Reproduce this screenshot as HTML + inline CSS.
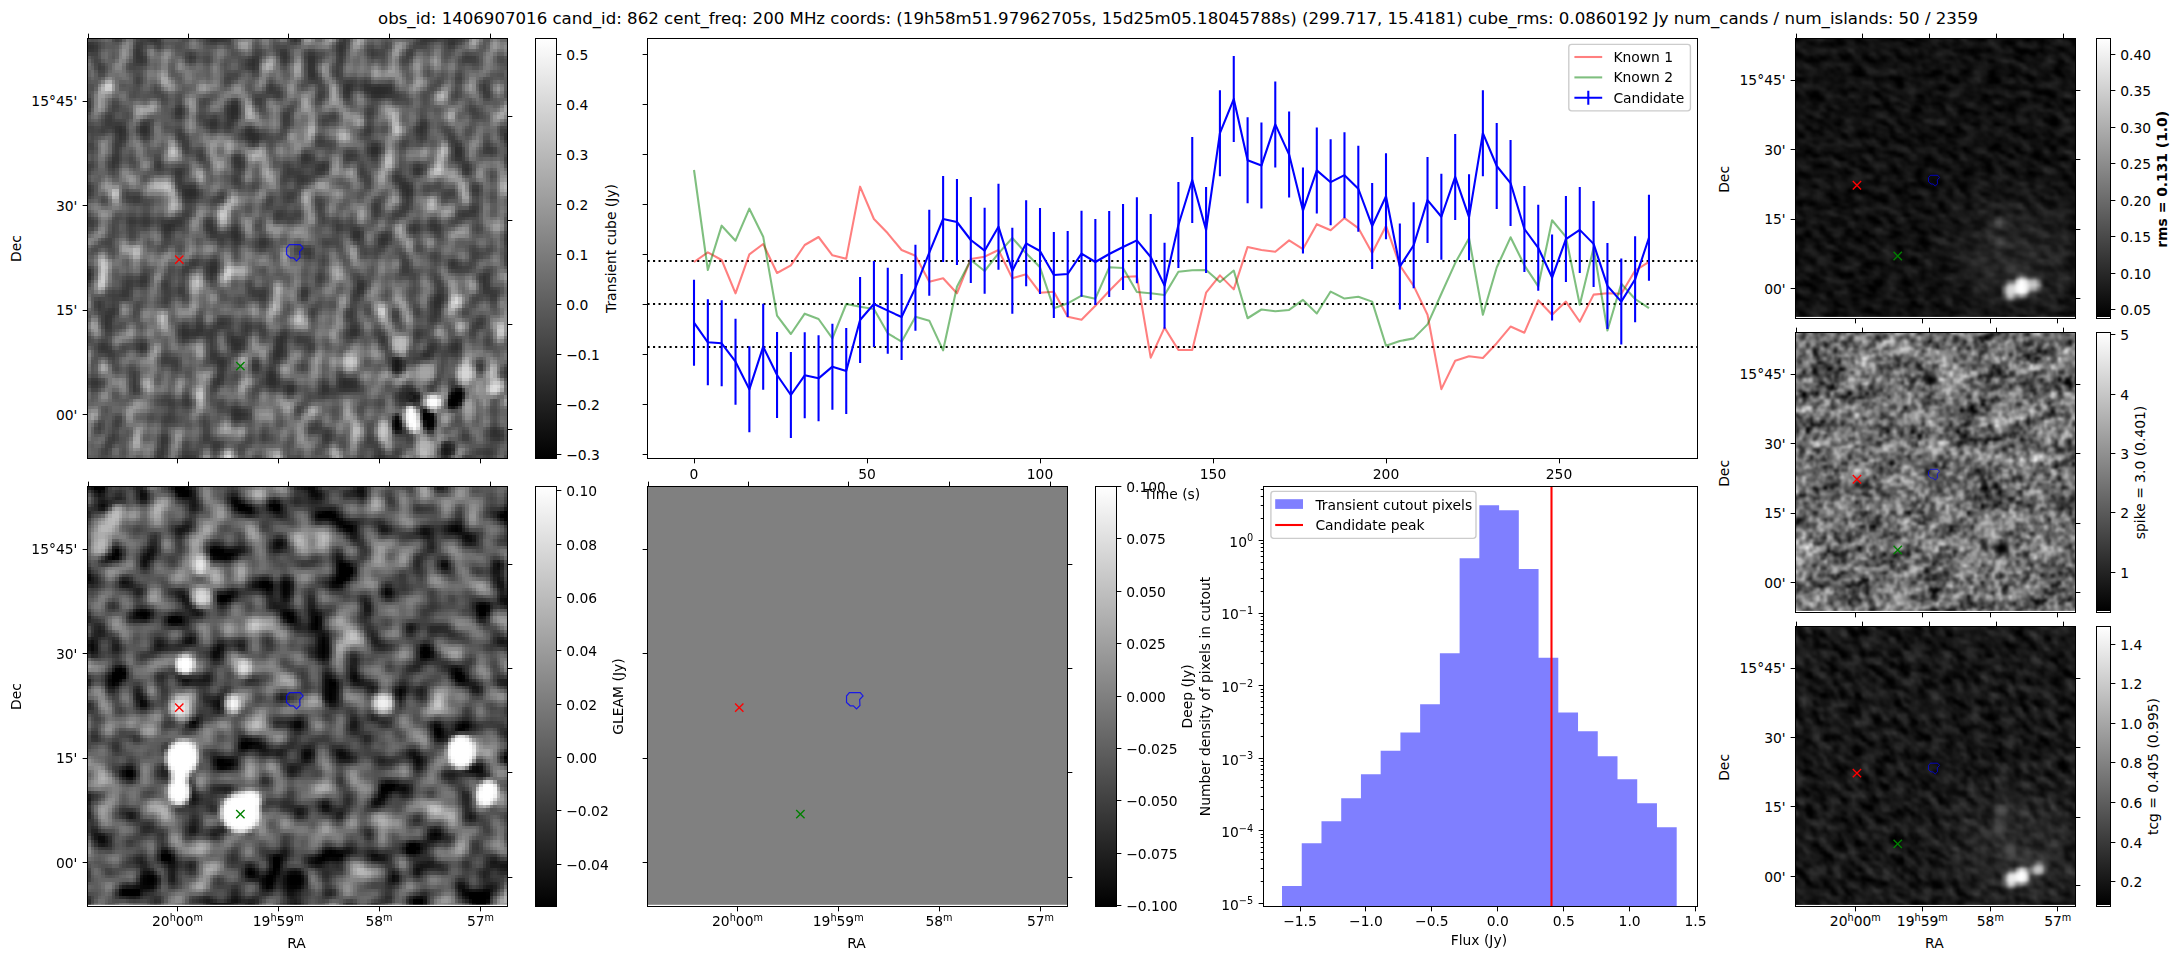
<!DOCTYPE html>
<html lang="en"><head><meta charset="utf-8"><title>candidate 862</title>
<style>html,body{margin:0;padding:0;background:#fff;overflow:hidden}svg{display:block}text{font-family:"DejaVu Sans","Liberation Sans",sans-serif;fill:#000}</style></head><body>
<svg width="2179" height="960" viewBox="0 0 2179 960" font-size="13.89">
<defs>
<linearGradient id="cb" x1="0" y1="0" x2="0" y2="1"><stop offset="0" stop-color="#fff"/><stop offset="1" stop-color="#000"/></linearGradient>
<filter id="n1" x="0" y="0" width="1" height="1" color-interpolation-filters="sRGB"><feTurbulence type="fractalNoise" baseFrequency="0.075 0.058" numOctaves="1" seed="3"/><feColorMatrix type="matrix" values="0.425 0 0 0 0 0.425 0 0 0 0 0.425 0 0 0 0 0 0 0 0 1" result="A"/><feTurbulence type="fractalNoise" baseFrequency="0.042 0.033" numOctaves="1" seed="17"/><feColorMatrix type="matrix" values="0.3 0 0 0 0 0.3 0 0 0 0 0.3 0 0 0 0 0 0 0 0 1" result="B"/><feComposite in="A" in2="B" operator="arithmetic" k1="0" k2="1" k3="1" k4="0"/><feGaussianBlur stdDeviation="1.3"/><feColorMatrix type="matrix" values="2.9412 0 0 0 -0.5662 2.9412 0 0 0 -0.5662 2.9412 0 0 0 -0.5662 0 0 0 0 1"/><feComponentTransfer><feFuncR type="gamma" amplitude="0.7" exponent="1.7" offset="0.165"/><feFuncG type="gamma" amplitude="0.7" exponent="1.7" offset="0.165"/><feFuncB type="gamma" amplitude="0.7" exponent="1.7" offset="0.165"/></feComponentTransfer></filter>
<filter id="n3" x="0" y="0" width="1" height="1" color-interpolation-filters="sRGB"><feTurbulence type="fractalNoise" baseFrequency="0.056" numOctaves="1" seed="11"/><feColorMatrix type="matrix" values="0.575 0 0 0 0 0.575 0 0 0 0 0.575 0 0 0 0 0 0 0 0 1" result="A"/><feTurbulence type="fractalNoise" baseFrequency="0.028" numOctaves="1" seed="29"/><feColorMatrix type="matrix" values="0.45 0 0 0 0 0.45 0 0 0 0 0.45 0 0 0 0 0 0 0 0 1" result="B"/><feComposite in="A" in2="B" operator="arithmetic" k1="0" k2="1" k3="1" k4="0"/><feGaussianBlur stdDeviation="1.5"/><feColorMatrix type="matrix" values="2 0 0 0 -0.705 2 0 0 0 -0.705 2 0 0 0 -0.705 0 0 0 0 1"/></filter>
<filter id="n5" x="0" y="0" width="1" height="1" color-interpolation-filters="sRGB"><feTurbulence type="fractalNoise" baseFrequency="0.07 0.13" numOctaves="2" seed="5" stitchTiles="noStitch"/><feColorMatrix type="matrix" values="0.3 0 0 0 -0.085 0.3 0 0 0 -0.085 0.3 0 0 0 -0.085 0 0 0 0 1"/></filter>
<filter id="n6" x="0" y="0" width="1" height="1" color-interpolation-filters="sRGB"><feTurbulence type="fractalNoise" baseFrequency="0.16" numOctaves="2" seed="8"/><feColorMatrix type="matrix" values="0.55 0 0 0 0 0.55 0 0 0 0 0.55 0 0 0 0 0 0 0 0 1" result="A"/><feTurbulence type="fractalNoise" baseFrequency="0.025 0.06" numOctaves="2" seed="4"/><feColorMatrix type="matrix" values="0.4 0 0 0 0 0.4 0 0 0 0 0.4 0 0 0 0 0 0 0 0 1" result="B"/><feComposite in="A" in2="B" operator="arithmetic" k1="0" k2="1" k3="1" k4="0"/><feColorMatrix type="matrix" values="2 0 0 0 -0.53 2 0 0 0 -0.53 2 0 0 0 -0.53 0 0 0 0 1"/></filter>
<filter id="n7" x="0" y="0" width="1" height="1" color-interpolation-filters="sRGB"><feTurbulence type="fractalNoise" baseFrequency="0.07 0.13" numOctaves="2" seed="21" stitchTiles="noStitch"/><feColorMatrix type="matrix" values="0.4 0 0 0 -0.11 0.4 0 0 0 -0.11 0.4 0 0 0 -0.11 0 0 0 0 1"/></filter>
<filter id="px0" filterUnits="userSpaceOnUse" primitiveUnits="userSpaceOnUse" x="87" y="38" width="421" height="421" color-interpolation-filters="sRGB"><feFlood x="88" y="39" width="1" height="1" flood-color="#000" result="d0"/><feFlood x="92" y="39" width="1" height="1" flood-color="#000" result="d1"/><feFlood x="88" y="43" width="1" height="1" flood-color="#000" result="d2"/><feFlood x="92" y="43" width="1" height="1" flood-color="#000" result="d3"/><feMerge x="87" y="38" width="7" height="7" result="cell"><feMergeNode in="d0"/><feMergeNode in="d1"/><feMergeNode in="d2"/><feMergeNode in="d3"/></feMerge><feTile in="cell" result="grid"/><feComposite in="SourceGraphic" in2="grid" operator="in" result="m0"/><feMorphology in="m0" operator="dilate" radius="1" result="m0"/><feOffset in="m0" dx="1" dy="0" result="o0"/><feMerge result="m1"><feMergeNode in="o0"/><feMergeNode in="m0"/></feMerge><feOffset in="m1" dx="0" dy="1" result="o1"/><feMerge result="m2"><feMergeNode in="o1"/><feMergeNode in="m1"/></feMerge></filter>
<filter id="px1" filterUnits="userSpaceOnUse" primitiveUnits="userSpaceOnUse" x="87" y="486" width="421" height="421" color-interpolation-filters="sRGB"><feFlood x="88" y="487" width="1" height="1" flood-color="#000" result="d0"/><feFlood x="92" y="487" width="1" height="1" flood-color="#000" result="d1"/><feFlood x="88" y="491" width="1" height="1" flood-color="#000" result="d2"/><feFlood x="92" y="491" width="1" height="1" flood-color="#000" result="d3"/><feMerge x="87" y="486" width="7" height="7" result="cell"><feMergeNode in="d0"/><feMergeNode in="d1"/><feMergeNode in="d2"/><feMergeNode in="d3"/></feMerge><feTile in="cell" result="grid"/><feComposite in="SourceGraphic" in2="grid" operator="in" result="m0"/><feMorphology in="m0" operator="dilate" radius="1" result="m0"/><feOffset in="m0" dx="1" dy="0" result="o0"/><feMerge result="m1"><feMergeNode in="o0"/><feMergeNode in="m0"/></feMerge><feOffset in="m1" dx="0" dy="1" result="o1"/><feMerge result="m2"><feMergeNode in="o1"/><feMergeNode in="m1"/></feMerge></filter>
<filter id="px2" filterUnits="userSpaceOnUse" primitiveUnits="userSpaceOnUse" x="1788" y="31" width="296" height="295" color-interpolation-filters="sRGB"><feFlood x="1788" y="31" width="1" height="1" flood-color="#000" result="d0"/><feFlood x="1790" y="31" width="1" height="1" flood-color="#000" result="d1"/><feFlood x="1793" y="31" width="1" height="1" flood-color="#000" result="d2"/><feFlood x="1788" y="33" width="1" height="1" flood-color="#000" result="d3"/><feFlood x="1790" y="33" width="1" height="1" flood-color="#000" result="d4"/><feFlood x="1793" y="33" width="1" height="1" flood-color="#000" result="d5"/><feFlood x="1788" y="36" width="1" height="1" flood-color="#000" result="d6"/><feFlood x="1790" y="36" width="1" height="1" flood-color="#000" result="d7"/><feFlood x="1793" y="36" width="1" height="1" flood-color="#000" result="d8"/><feMerge x="1788" y="31" width="7" height="7" result="cell"><feMergeNode in="d0"/><feMergeNode in="d1"/><feMergeNode in="d2"/><feMergeNode in="d3"/><feMergeNode in="d4"/><feMergeNode in="d5"/><feMergeNode in="d6"/><feMergeNode in="d7"/><feMergeNode in="d8"/></feMerge><feTile in="cell" result="grid"/><feComposite in="SourceGraphic" in2="grid" operator="in" result="m0"/><feOffset in="m0" dx="1" dy="0" result="o0"/><feMerge result="m1"><feMergeNode in="o0"/><feMergeNode in="m0"/></feMerge><feOffset in="m1" dx="-1" dy="0" result="o1"/><feMerge result="m2"><feMergeNode in="o1"/><feMergeNode in="m1"/></feMerge><feOffset in="m2" dx="0" dy="1" result="o2"/><feMerge result="m3"><feMergeNode in="o2"/><feMergeNode in="m2"/></feMerge><feOffset in="m3" dx="0" dy="-1" result="o3"/><feMerge result="m4"><feMergeNode in="o3"/><feMergeNode in="m3"/></feMerge><feGaussianBlur stdDeviation="1.0"/></filter>
<filter id="px3" filterUnits="userSpaceOnUse" primitiveUnits="userSpaceOnUse" x="1788" y="325" width="296" height="295" color-interpolation-filters="sRGB"><feFlood x="1788" y="325" width="1" height="1" flood-color="#000" result="d0"/><feFlood x="1790" y="325" width="1" height="1" flood-color="#000" result="d1"/><feFlood x="1793" y="325" width="1" height="1" flood-color="#000" result="d2"/><feFlood x="1788" y="327" width="1" height="1" flood-color="#000" result="d3"/><feFlood x="1790" y="327" width="1" height="1" flood-color="#000" result="d4"/><feFlood x="1793" y="327" width="1" height="1" flood-color="#000" result="d5"/><feFlood x="1788" y="330" width="1" height="1" flood-color="#000" result="d6"/><feFlood x="1790" y="330" width="1" height="1" flood-color="#000" result="d7"/><feFlood x="1793" y="330" width="1" height="1" flood-color="#000" result="d8"/><feMerge x="1788" y="325" width="7" height="7" result="cell"><feMergeNode in="d0"/><feMergeNode in="d1"/><feMergeNode in="d2"/><feMergeNode in="d3"/><feMergeNode in="d4"/><feMergeNode in="d5"/><feMergeNode in="d6"/><feMergeNode in="d7"/><feMergeNode in="d8"/></feMerge><feTile in="cell" result="grid"/><feComposite in="SourceGraphic" in2="grid" operator="in" result="m0"/><feOffset in="m0" dx="1" dy="0" result="o0"/><feMerge result="m1"><feMergeNode in="o0"/><feMergeNode in="m0"/></feMerge><feOffset in="m1" dx="-1" dy="0" result="o1"/><feMerge result="m2"><feMergeNode in="o1"/><feMergeNode in="m1"/></feMerge><feOffset in="m2" dx="0" dy="1" result="o2"/><feMerge result="m3"><feMergeNode in="o2"/><feMergeNode in="m2"/></feMerge><feOffset in="m3" dx="0" dy="-1" result="o3"/><feMerge result="m4"><feMergeNode in="o3"/><feMergeNode in="m3"/></feMerge><feGaussianBlur stdDeviation="1.0"/></filter>
<filter id="px4" filterUnits="userSpaceOnUse" primitiveUnits="userSpaceOnUse" x="1788" y="619" width="296" height="295" color-interpolation-filters="sRGB"><feFlood x="1788" y="619" width="1" height="1" flood-color="#000" result="d0"/><feFlood x="1790" y="619" width="1" height="1" flood-color="#000" result="d1"/><feFlood x="1793" y="619" width="1" height="1" flood-color="#000" result="d2"/><feFlood x="1788" y="621" width="1" height="1" flood-color="#000" result="d3"/><feFlood x="1790" y="621" width="1" height="1" flood-color="#000" result="d4"/><feFlood x="1793" y="621" width="1" height="1" flood-color="#000" result="d5"/><feFlood x="1788" y="624" width="1" height="1" flood-color="#000" result="d6"/><feFlood x="1790" y="624" width="1" height="1" flood-color="#000" result="d7"/><feFlood x="1793" y="624" width="1" height="1" flood-color="#000" result="d8"/><feMerge x="1788" y="619" width="7" height="7" result="cell"><feMergeNode in="d0"/><feMergeNode in="d1"/><feMergeNode in="d2"/><feMergeNode in="d3"/><feMergeNode in="d4"/><feMergeNode in="d5"/><feMergeNode in="d6"/><feMergeNode in="d7"/><feMergeNode in="d8"/></feMerge><feTile in="cell" result="grid"/><feComposite in="SourceGraphic" in2="grid" operator="in" result="m0"/><feOffset in="m0" dx="1" dy="0" result="o0"/><feMerge result="m1"><feMergeNode in="o0"/><feMergeNode in="m0"/></feMerge><feOffset in="m1" dx="-1" dy="0" result="o1"/><feMerge result="m2"><feMergeNode in="o1"/><feMergeNode in="m1"/></feMerge><feOffset in="m2" dx="0" dy="1" result="o2"/><feMerge result="m3"><feMergeNode in="o2"/><feMergeNode in="m2"/></feMerge><feOffset in="m3" dx="0" dy="-1" result="o3"/><feMerge result="m4"><feMergeNode in="o3"/><feMergeNode in="m3"/></feMerge><feGaussianBlur stdDeviation="1.0"/></filter>
<filter id="b3" x="-50%" y="-50%" width="200%" height="200%"><feGaussianBlur stdDeviation="3"/></filter>
<filter id="b2" x="-50%" y="-50%" width="200%" height="200%"><feGaussianBlur stdDeviation="2"/></filter>
<filter id="b4" x="-50%" y="-50%" width="200%" height="200%"><feGaussianBlur stdDeviation="3.5"/></filter>
<filter id="b6" x="-50%" y="-50%" width="200%" height="200%"><feGaussianBlur stdDeviation="6"/></filter>
<filter id="b20" x="-50%" y="-50%" width="200%" height="200%"><feGaussianBlur stdDeviation="22"/></filter>
<clipPath id="c0"><rect x="87.5" y="38.5" width="420" height="420"/></clipPath>
<clipPath id="c1"><rect x="87.5" y="486.5" width="420" height="420"/></clipPath>
<clipPath id="c2"><rect x="1795.5" y="38.5" width="280" height="280"/></clipPath>
<clipPath id="c3"><rect x="1795.5" y="332.5" width="280" height="280"/></clipPath>
<clipPath id="c4"><rect x="1795.5" y="626.5" width="280" height="280"/></clipPath>
</defs>
<rect width="2179" height="960" fill="#fff"/>
<text x="1178" y="24.2" text-anchor="middle" font-size="16.67" textLength="1600" lengthAdjust="spacingAndGlyphs">obs_id: 1406907016 cand_id: 862 cent_freq: 200 MHz coords: (19h58m51.97962705s, 15d25m05.18045788s) (299.717, 15.4181) cube_rms: 0.0860192 Jy num_cands / num_islands: 50 / 2359</text>
<g clip-path="url(#c0)"><g filter="url(#px0)"><rect x="-17.5" y="-66.5" width="630" height="630" fill="#5c5c5c" filter="url(#n1)" transform="rotate(12 297.5 248.5)"/>
<g filter="url(#b3)"><ellipse cx="415.8" cy="397" rx="6" ry="7.5" fill="#0c0c0c"/><ellipse cx="396.9" cy="365" rx="8" ry="11.5" fill="#191919"/><ellipse cx="446.5" cy="449.6" rx="8" ry="9.5" fill="#141414"/><ellipse cx="466.2" cy="373" rx="9" ry="9" fill="#d7d7d7"/><ellipse cx="494.6" cy="387.6" rx="10.5" ry="8" fill="#e1e1e1" transform="rotate(-30 494.6 387.6)"/><ellipse cx="399.8" cy="343" rx="9" ry="9" fill="#bebebe"/><ellipse cx="350.2" cy="361.4" rx="9" ry="9.5" fill="#cdcdcd"/><ellipse cx="383.8" cy="429" rx="6" ry="10.5" fill="#cdcdcd"/><ellipse cx="426" cy="445" rx="8" ry="8" fill="#b4b4b4"/><ellipse cx="424.6" cy="372.3" rx="11.5" ry="10.5" fill="#a5a5a5"/><ellipse cx="468.4" cy="405.8" rx="7" ry="10.5" fill="#aaaaaa"/><ellipse cx="445" cy="419" rx="6.5" ry="7.5" fill="#aaaaaa"/></g>
<g filter="url(#b2)"><ellipse cx="412.2" cy="419" rx="7.5" ry="14" fill="#ffffff" transform="rotate(-12 412.2 419)"/><ellipse cx="433.3" cy="401.5" rx="8" ry="7.5" fill="#ffffff"/><ellipse cx="427.5" cy="419" rx="9" ry="13" fill="#000000" transform="rotate(-15 427.5 419)"/><ellipse cx="455.2" cy="398.6" rx="8" ry="13" fill="#000000" transform="rotate(35 455.2 398.6)"/><ellipse cx="397.6" cy="423.3" rx="6" ry="10" fill="#000000"/></g>
</g></g>
<rect x="87.5" y="38.5" width="420" height="420" fill="none" stroke="#000" stroke-width="1"/>
<path d="M88.5 38.5v-4.86M188.5 38.5v-4.86M288.5 38.5v-4.86M389.5 38.5v-4.86M490.5 38.5v-4.86" stroke="#000" stroke-width="1" fill="none"/>
<path d="M177.5 458.5v4.86M278.5 458.5v4.86M379.5 458.5v4.86M480.5 458.5v4.86" stroke="#000" stroke-width="1" fill="none"/>
<path d="M87.5 101.5h-4.86M87.5 205.5h-4.86M87.5 310.5h-4.86M87.5 414.5h-4.86" stroke="#000" stroke-width="1" fill="none"/>
<path d="M507.5 116.5h4.86M507.5 220.5h4.86M507.5 324.5h4.86M507.5 429.5h4.86" stroke="#000" stroke-width="1" fill="none"/>
<text x="77.44" y="106.4" text-anchor="end">15°45'</text>
<text x="77.44" y="210.8" text-anchor="end">30'</text>
<text x="77.44" y="315.2" text-anchor="end">15'</text>
<text x="77.44" y="419.8" text-anchor="end">00'</text>
<text x="16" y="248.5" text-anchor="middle" transform="rotate(-90 16 248.5)" dominant-baseline="central">Dec</text>
<path d="M289.34 244.67L300.25 244.67L303.06 247.97L299.65 251.58L299.95 257.48L296.55 260.89L293.35 257.78L290.24 257.78L286.54 254.38L286.54 248.07Z" stroke="#0000ff" stroke-width="1.2" fill="none" opacity="0.8"/>
<path d="M175.1 255.46l8.34 8.34M175.1 263.8l8.34 -8.34" stroke="#ff0000" stroke-width="1.39" fill="none"/>
<path d="M236.21 361.93l8.34 8.34M236.21 370.27l8.34 -8.34" stroke="#008000" stroke-width="1.39" fill="none"/>
<rect x="535.5" y="38.5" width="21" height="420" fill="url(#cb)"/>
<rect x="535.5" y="38.5" width="21" height="420" fill="none" stroke="#000" stroke-width="1"/>
<path d="M556.5 54.5h4.86M556.5 104.5h4.86M556.5 154.5h4.86M556.5 204.5h4.86M556.5 254.5h4.86M556.5 304.5h4.86M556.5 354.5h4.86M556.5 404.5h4.86M556.5 454.5h4.86" stroke="#000" stroke-width="1" fill="none"/>
<text x="566.22" y="59.6" text-anchor="start">0.5</text>
<text x="566.22" y="109.6" text-anchor="start">0.4</text>
<text x="566.22" y="159.6" text-anchor="start">0.3</text>
<text x="566.22" y="209.6" text-anchor="start">0.2</text>
<text x="566.22" y="259.6" text-anchor="start">0.1</text>
<text x="566.22" y="309.6" text-anchor="start">0.0</text>
<text x="566.22" y="359.6" text-anchor="start">−0.1</text>
<text x="566.22" y="409.6" text-anchor="start">−0.2</text>
<text x="566.22" y="459.6" text-anchor="start">−0.3</text>
<text x="611" y="248.5" text-anchor="middle" transform="rotate(-90 611 248.5)" dominant-baseline="central">Transient cube (Jy)</text>
<g clip-path="url(#c1)"><g filter="url(#px1)"><rect x="-17.5" y="381.5" width="630" height="630" fill="#5c5c5c" filter="url(#n3)" transform="rotate(31 297.5 696.5)"/>
<g filter="url(#b4)"><ellipse cx="243.8" cy="667.2" rx="9" ry="10" fill="#e6e6e6"/><ellipse cx="232.8" cy="703.4" rx="9" ry="11" fill="#fafafa"/><ellipse cx="179.5" cy="708" rx="11" ry="10" fill="#ebebeb"/><ellipse cx="200" cy="565" rx="9" ry="11" fill="#ebebeb"/><ellipse cx="201.6" cy="597" rx="11" ry="11" fill="#dcdcdc"/><ellipse cx="382.8" cy="702.5" rx="12" ry="11" fill="#f0f0f0"/><ellipse cx="114.4" cy="516.7" rx="9" ry="15" fill="#bebebe" transform="rotate(30 114.4 516.7)"/><ellipse cx="100.6" cy="545" rx="10" ry="13" fill="#b9b9b9" transform="rotate(30 100.6 545)"/><ellipse cx="148.8" cy="730" rx="11" ry="9" fill="#a5a5a5"/><ellipse cx="286" cy="590" rx="8" ry="15" fill="#000000"/><ellipse cx="323" cy="647" rx="8" ry="17" fill="#000000"/><ellipse cx="330" cy="695" rx="9" ry="13" fill="#000000"/><ellipse cx="193" cy="722" rx="9" ry="8" fill="#000000"/><ellipse cx="295" cy="880" rx="13" ry="13" fill="#000000"/><ellipse cx="150" cy="880" rx="11" ry="11" fill="#000000"/></g>
<g filter="url(#b2)"><ellipse cx="181.8" cy="757.5" rx="17" ry="18" fill="#ffffff" transform="rotate(15 181.8 757.5)"/><ellipse cx="178.6" cy="791" rx="11.5" ry="14" fill="#ffffff"/><ellipse cx="179.5" cy="775" rx="9" ry="11" fill="#ffffff"/><ellipse cx="240.5" cy="812.6" rx="20" ry="20" fill="#ffffff"/><ellipse cx="250" cy="801" rx="11" ry="11" fill="#ffffff"/><ellipse cx="460.7" cy="751.6" rx="14.5" ry="17.5" fill="#ffffff"/><ellipse cx="486.9" cy="792.8" rx="11" ry="14" fill="#ffffff" transform="rotate(20 486.9 792.8)"/><ellipse cx="184.6" cy="664.4" rx="10" ry="10" fill="#ffffff"/></g>
</g></g>
<rect x="87.5" y="904.8" width="420" height="1.7" fill="#fff"/>
<rect x="87.5" y="486.5" width="420" height="420" fill="none" stroke="#000" stroke-width="1"/>
<path d="M88.5 486.5v-4.86M188.5 486.5v-4.86M288.5 486.5v-4.86M389.5 486.5v-4.86M490.5 486.5v-4.86" stroke="#000" stroke-width="1" fill="none"/>
<path d="M177.5 906.5v4.86M278.5 906.5v4.86M379.5 906.5v4.86M480.5 906.5v4.86" stroke="#000" stroke-width="1" fill="none"/>
<path d="M87.5 549.5h-4.86M87.5 653.5h-4.86M87.5 758.5h-4.86M87.5 862.5h-4.86" stroke="#000" stroke-width="1" fill="none"/>
<path d="M507.5 564.5h4.86M507.5 668.5h4.86M507.5 772.5h4.86M507.5 877.5h4.86" stroke="#000" stroke-width="1" fill="none"/>
<text x="77.44" y="554.4" text-anchor="end">15°45'</text>
<text x="77.44" y="658.8" text-anchor="end">30'</text>
<text x="77.44" y="763.2" text-anchor="end">15'</text>
<text x="77.44" y="867.8" text-anchor="end">00'</text>
<text x="16" y="696.5" text-anchor="middle" transform="rotate(-90 16 696.5)" dominant-baseline="central">Dec</text>
<text x="177.5" y="926" text-anchor="middle">20<tspan dy="-5.3" font-size="9.72">h</tspan><tspan dy="5.3">00</tspan><tspan dy="-5.3" font-size="9.72">m</tspan></text>
<text x="278.2" y="926" text-anchor="middle">19<tspan dy="-5.3" font-size="9.72">h</tspan><tspan dy="5.3">59</tspan><tspan dy="-5.3" font-size="9.72">m</tspan></text>
<text x="379" y="926" text-anchor="middle">58<tspan dy="-5.3" font-size="9.72">m</tspan></text>
<text x="480.5" y="926" text-anchor="middle">57<tspan dy="-5.3" font-size="9.72">m</tspan></text>
<text x="296.6" y="948.1" text-anchor="middle">RA</text>
<path d="M289.34 692.67L300.25 692.67L303.06 695.97L299.65 699.58L299.95 705.48L296.55 708.89L293.35 705.78L290.24 705.78L286.54 702.38L286.54 696.07Z" stroke="#0000ff" stroke-width="1.2" fill="none" opacity="0.8"/>
<path d="M175.1 703.46l8.34 8.34M175.1 711.8l8.34 -8.34" stroke="#ff0000" stroke-width="1.39" fill="none"/>
<path d="M236.21 809.93l8.34 8.34M236.21 818.27l8.34 -8.34" stroke="#008000" stroke-width="1.39" fill="none"/>
<rect x="535.5" y="486.5" width="21" height="420" fill="url(#cb)"/>
<rect x="535.5" y="486.5" width="21" height="420" fill="none" stroke="#000" stroke-width="1"/>
<path d="M556.5 490.5h4.86M556.5 544.5h4.86M556.5 597.5h4.86M556.5 650.5h4.86M556.5 704.5h4.86M556.5 757.5h4.86M556.5 810.5h4.86M556.5 864.5h4.86" stroke="#000" stroke-width="1" fill="none"/>
<text x="566.22" y="495.6" text-anchor="start">0.10</text>
<text x="566.22" y="549.6" text-anchor="start">0.08</text>
<text x="566.22" y="602.6" text-anchor="start">0.06</text>
<text x="566.22" y="655.6" text-anchor="start">0.04</text>
<text x="566.22" y="709.6" text-anchor="start">0.02</text>
<text x="566.22" y="762.6" text-anchor="start">0.00</text>
<text x="566.22" y="815.6" text-anchor="start">−0.02</text>
<text x="566.22" y="869.6" text-anchor="start">−0.04</text>
<text x="618.2" y="696.5" text-anchor="middle" transform="rotate(-90 618.2 696.5)" dominant-baseline="central">GLEAM (Jy)</text>
<rect x="647.5" y="486.5" width="420" height="418.3" fill="#808080"/>
<rect x="647.5" y="486.5" width="420" height="420" fill="none" stroke="#000" stroke-width="1"/>
<path d="M648.5 486.5v-4.86M748.5 486.5v-4.86M848.5 486.5v-4.86M949.5 486.5v-4.86M1050.5 486.5v-4.86" stroke="#000" stroke-width="1" fill="none"/>
<path d="M737.5 906.5v4.86M838.5 906.5v4.86M939.5 906.5v4.86M1040.5 906.5v4.86" stroke="#000" stroke-width="1" fill="none"/>
<path d="M647.5 549.5h-4.86M647.5 653.5h-4.86M647.5 758.5h-4.86M647.5 862.5h-4.86" stroke="#000" stroke-width="1" fill="none"/>
<path d="M1067.5 564.5h4.86M1067.5 668.5h4.86M1067.5 772.5h4.86M1067.5 877.5h4.86" stroke="#000" stroke-width="1" fill="none"/>
<text x="737.5" y="926" text-anchor="middle">20<tspan dy="-5.3" font-size="9.72">h</tspan><tspan dy="5.3">00</tspan><tspan dy="-5.3" font-size="9.72">m</tspan></text>
<text x="838.2" y="926" text-anchor="middle">19<tspan dy="-5.3" font-size="9.72">h</tspan><tspan dy="5.3">59</tspan><tspan dy="-5.3" font-size="9.72">m</tspan></text>
<text x="939" y="926" text-anchor="middle">58<tspan dy="-5.3" font-size="9.72">m</tspan></text>
<text x="1040.5" y="926" text-anchor="middle">57<tspan dy="-5.3" font-size="9.72">m</tspan></text>
<text x="856.6" y="948.1" text-anchor="middle">RA</text>
<path d="M849.34 692.67L860.25 692.67L863.06 695.97L859.65 699.58L859.95 705.48L856.55 708.89L853.35 705.78L850.24 705.78L846.54 702.38L846.54 696.07Z" stroke="#0000ff" stroke-width="1.2" fill="none" opacity="0.8"/>
<path d="M735.1 703.46l8.34 8.34M735.1 711.8l8.34 -8.34" stroke="#ff0000" stroke-width="1.39" fill="none"/>
<path d="M796.21 809.93l8.34 8.34M796.21 818.27l8.34 -8.34" stroke="#008000" stroke-width="1.39" fill="none"/>
<rect x="1095.5" y="486.5" width="21" height="420" fill="url(#cb)"/>
<rect x="1095.5" y="486.5" width="21" height="420" fill="none" stroke="#000" stroke-width="1"/>
<path d="M1116.5 486.5h4.86M1116.5 538.5h4.86M1116.5 591.5h4.86M1116.5 643.5h4.86M1116.5 696.5h4.86M1116.5 748.5h4.86M1116.5 800.5h4.86M1116.5 853.5h4.86M1116.5 905.5h4.86" stroke="#000" stroke-width="1" fill="none"/>
<text x="1126.22" y="491.6" text-anchor="start">0.100</text>
<text x="1126.22" y="543.6" text-anchor="start">0.075</text>
<text x="1126.22" y="596.6" text-anchor="start">0.050</text>
<text x="1126.22" y="648.6" text-anchor="start">0.025</text>
<text x="1126.22" y="701.6" text-anchor="start">0.000</text>
<text x="1126.22" y="753.6" text-anchor="start">−0.025</text>
<text x="1126.22" y="805.6" text-anchor="start">−0.050</text>
<text x="1126.22" y="858.6" text-anchor="start">−0.075</text>
<text x="1126.22" y="910.6" text-anchor="start">−0.100</text>
<text x="1187.4" y="696.5" text-anchor="middle" transform="rotate(-90 1187.4 696.5)" dominant-baseline="central">Deep (Jy)</text>
<path d="M647.5 261H1697.5" stroke="#000" stroke-width="2.08" stroke-dasharray="2.08 3.44" fill="none"/>
<path d="M647.5 304H1697.5" stroke="#000" stroke-width="2.08" stroke-dasharray="2.08 3.44" fill="none"/>
<path d="M647.5 347H1697.5" stroke="#000" stroke-width="2.08" stroke-dasharray="2.08 3.44" fill="none"/>
<path d="M694 262L707.84 252.33L721.68 260L735.52 293.33L749.36 254.33L763.2 244L777.04 273L790.88 265.33L804.72 245L818.56 237L832.4 255.33L846.24 258.67L860.08 186.67L873.92 219L887.76 233.33L901.6 250L915.44 255.67L929.28 281.67L943.12 278.33L956.96 293.33L970.8 259L984.64 256.67L998.48 250L1012.32 278.33L1026.16 274.33L1040 292.67L1053.84 291.67L1067.68 316.67L1081.52 319.67L1095.36 305.67L1109.2 291L1123.04 277L1136.88 276.33L1150.72 357.67L1164.56 327.67L1178.4 350L1192.24 350L1206.08 292.67L1219.92 275.38L1233.76 289.38L1247.6 246.94L1261.44 250L1275.28 251.75L1289.12 240.38L1302.96 249.12L1316.8 224.19L1330.64 230.31L1344.48 218.06L1358.32 228.12L1372.16 253.06L1386 225.94L1399.84 265.31L1413.68 285.88L1427.52 314.75L1441.36 389.12L1455.2 360.69L1469.04 356.31L1482.88 358.06L1496.72 343.19L1510.56 326.56L1524.4 332.69L1538.24 300.31L1552.08 314.75L1565.92 301.62L1579.76 321.75L1593.6 294.62L1607.44 293.31L1621.28 293.75L1635.12 270.56L1648.96 261.81" stroke="#ff0000" stroke-opacity="0.5" stroke-width="2.08" fill="none" stroke-linejoin="round"/>
<path d="M694 170L707.84 270L721.68 225.67L735.52 240.67L749.36 208.67L763.2 236.67L777.04 315.67L790.88 334L804.72 313.67L818.56 319L832.4 338.33L846.24 304L860.08 306.67L873.92 309L887.76 333.33L901.6 341.67L915.44 316.67L929.28 320.67L943.12 350.33L956.96 286.67L970.8 260L984.64 271L998.48 253.33L1012.32 238L1026.16 253.33L1040 267.33L1053.84 308.33L1067.68 303.33L1081.52 295.67L1095.36 298.67L1109.2 267.33L1123.04 268L1136.88 292L1150.72 293.33L1164.56 295L1178.4 271.67L1192.24 270.33L1206.08 270L1219.92 281.94L1233.76 270.56L1247.6 318.25L1261.44 309.5L1275.28 311.25L1289.12 309.94L1302.96 299.88L1316.8 313.44L1330.64 291.56L1344.48 298.56L1358.32 296.81L1372.16 301.62L1386 345.81L1399.84 341L1413.68 338.38L1427.52 324.38L1441.36 293.75L1455.2 263.12L1469.04 238.19L1482.88 314.75L1496.72 267.5L1510.56 237.31L1524.4 265.31L1538.24 286.31L1552.08 220.25L1565.92 236.88L1579.76 304.69L1593.6 247.81L1607.44 330.5L1621.28 283.69L1635.12 299L1648.96 308.19" stroke="#008000" stroke-opacity="0.5" stroke-width="2.08" fill="none" stroke-linejoin="round"/>
<path d="M694 279.67v86M707.84 299.33v86M721.68 300.33v86M735.52 318.67v86M749.36 346.33v86M763.2 303.67v86M777.04 332v86M790.88 352v86M804.72 332.33v86M818.56 335.33v86M832.4 323.67v86M846.24 328v86M860.08 277v86M873.92 261v86M887.76 267.67v86M901.6 274v86M915.44 244.67v86M929.28 209.67v86M943.12 176v86M956.96 179v86M970.8 197v86M984.64 207.67v86M998.48 183.67v86M1012.32 227.67v86M1026.16 200.33v86M1040 208v86M1053.84 232v86M1067.68 231v86M1081.52 210.67v86M1095.36 219v86M1109.2 211v86M1123.04 204v86M1136.88 197.33v86M1150.72 214v86M1164.56 242.67v86M1178.4 182v86M1192.24 137v86M1206.08 187v86M1219.92 90.19v86M1233.76 56.06v86M1247.6 117.31v86M1261.44 122.56v86M1275.28 81.44v86M1289.12 111.62v86M1302.96 167.62v86M1316.8 127.38v86M1330.64 139.19v86M1344.48 132.19v86M1358.32 145.75v86M1372.16 182.94v86M1386 153.19v86M1399.84 223.62v86M1413.68 202.19v86M1427.52 157.12v86M1441.36 173.75v86M1455.2 133.94v86M1469.04 174.19v86M1482.88 90.19v86M1496.72 123v86M1510.56 140.06v86M1524.4 186v86M1538.24 204.81v86M1552.08 234.56v86M1565.92 196.06v86M1579.76 186.88v86M1593.6 200.88v86M1607.44 242.88v86M1621.28 258.62v86M1635.12 236.31v86M1648.96 194.75v86" stroke="#0000ff" stroke-width="2.08" fill="none"/>
<path d="M694 322.67L707.84 342.33L721.68 343.33L735.52 361.67L749.36 389.33L763.2 346.67L777.04 375L790.88 395L804.72 375.33L818.56 378.33L832.4 366.67L846.24 371L860.08 320L873.92 304L887.76 310.67L901.6 317L915.44 287.67L929.28 252.67L943.12 219L956.96 222L970.8 240L984.64 250.67L998.48 226.67L1012.32 270.67L1026.16 243.33L1040 251L1053.84 275L1067.68 274L1081.52 253.67L1095.36 262L1109.2 254L1123.04 247L1136.88 240.33L1150.72 257L1164.56 285.67L1178.4 225L1192.24 180L1206.08 230L1219.92 133.19L1233.76 99.06L1247.6 160.31L1261.44 165.56L1275.28 124.44L1289.12 154.62L1302.96 210.62L1316.8 170.38L1330.64 182.19L1344.48 175.19L1358.32 188.75L1372.16 225.94L1386 196.19L1399.84 266.62L1413.68 245.19L1427.52 200.12L1441.36 216.75L1455.2 176.94L1469.04 217.19L1482.88 133.19L1496.72 166L1510.56 183.06L1524.4 229L1538.24 247.81L1552.08 277.56L1565.92 239.06L1579.76 229.88L1593.6 243.88L1607.44 285.88L1621.28 301.62L1635.12 279.31L1648.96 237.75" stroke="#0000ff" stroke-opacity="1" stroke-width="2.08" fill="none" stroke-linejoin="round"/>
<rect x="647.5" y="38.5" width="1050" height="420" fill="none" stroke="#000" stroke-width="1"/>
<path d="M694.5 458.5v4.86M867.5 458.5v4.86M1040.5 458.5v4.86M1213.5 458.5v4.86M1386.5 458.5v4.86M1559.5 458.5v4.86" stroke="#000" stroke-width="1" fill="none"/>
<path d="M647.5 54.5h-4.86M647.5 104.5h-4.86M647.5 154.5h-4.86M647.5 204.5h-4.86M647.5 254.5h-4.86M647.5 304.5h-4.86M647.5 354.5h-4.86M647.5 404.5h-4.86M647.5 454.5h-4.86" stroke="#000" stroke-width="1" fill="none"/>
<text x="694" y="478.8" text-anchor="middle">0</text>
<text x="867" y="478.8" text-anchor="middle">50</text>
<text x="1040" y="478.8" text-anchor="middle">100</text>
<text x="1213" y="478.8" text-anchor="middle">150</text>
<text x="1386" y="478.8" text-anchor="middle">200</text>
<text x="1559" y="478.8" text-anchor="middle">250</text>
<text x="1172" y="498.8" text-anchor="middle">Time (s)</text>
<rect x="1568.8" y="44.4" width="121.6" height="66.5" rx="2.8" fill="#fff" fill-opacity="0.8" stroke="#ccc" stroke-width="1.39"/>
<path d="M1574.4 57.0h27.8" stroke="#ff0000" stroke-opacity="0.5" stroke-width="2.08"/>
<path d="M1574.4 77.4h27.8" stroke="#008000" stroke-opacity="0.5" stroke-width="2.08"/>
<path d="M1574.4 97.8h27.8M1588.3 90.8v14" stroke="#0000ff" stroke-width="2.08"/>
<text x="1613.4" y="61.8" text-anchor="start">Known 1</text>
<text x="1613.4" y="82.2" text-anchor="start">Known 2</text>
<text x="1613.4" y="102.6" text-anchor="start">Candidate</text>
<path d="M1282 906.5V886.03H1301.73V843.15H1321.47V821.2H1341.2V798.23H1360.94V774.24H1380.67V750.76H1400.41V732.38H1420.14V704.3H1439.88V653.26H1459.62V558.31H1479.35V505.22H1499.09V510.33H1518.82V569.03H1538.56V657.85H1558.29V712.47H1578.03V731.36H1597.76V756.37H1617.49V779.34H1637.23V803.33H1656.96V827.33H1676.7V906.5Z" fill="#0000ff" fill-opacity="0.5"/>
<path d="M1551.5 486.5V906.5" stroke="#ff0000" stroke-width="2.08"/>
<rect x="1263.5" y="486.5" width="434" height="420" fill="none" stroke="#000" stroke-width="1"/>
<path d="M1300.5 906.5v4.86M1365.5 906.5v4.86M1431.5 906.5v4.86M1497.5 906.5v4.86M1563.5 906.5v4.86M1629.5 906.5v4.86M1695.5 906.5v4.86" stroke="#000" stroke-width="1" fill="none"/>
<text x="1300" y="925.9" text-anchor="middle">−1.5</text>
<text x="1365.93" y="925.9" text-anchor="middle">−1.0</text>
<text x="1431.86" y="925.9" text-anchor="middle">−0.5</text>
<text x="1497.79" y="925.9" text-anchor="middle">0.0</text>
<text x="1563.72" y="925.9" text-anchor="middle">0.5</text>
<text x="1629.65" y="925.9" text-anchor="middle">1.0</text>
<text x="1695.58" y="925.9" text-anchor="middle">1.5</text>
<text x="1478.9" y="944.9" text-anchor="middle">Flux (Jy)</text>
<path d="M1263.5 540.5h-4.86M1263.5 613.5h-4.86M1263.5 685.5h-4.86M1263.5 758.5h-4.86M1263.5 830.5h-4.86M1263.5 903.5h-4.86" stroke="#000" stroke-width="1" fill="none"/>
<path d="M1263.5 881.5h-2.78M1263.5 868.5h-2.78M1263.5 859.5h-2.78M1263.5 852.5h-2.78M1263.5 847.5h-2.78M1263.5 842.5h-2.78M1263.5 837.5h-2.78M1263.5 834.5h-2.78M1263.5 809.5h-2.78M1263.5 796.5h-2.78M1263.5 787.5h-2.78M1263.5 780.5h-2.78M1263.5 774.5h-2.78M1263.5 769.5h-2.78M1263.5 765.5h-2.78M1263.5 761.5h-2.78M1263.5 736.5h-2.78M1263.5 723.5h-2.78M1263.5 714.5h-2.78M1263.5 707.5h-2.78M1263.5 701.5h-2.78M1263.5 696.5h-2.78M1263.5 692.5h-2.78M1263.5 689.5h-2.78M1263.5 663.5h-2.78M1263.5 651.5h-2.78M1263.5 641.5h-2.78M1263.5 634.5h-2.78M1263.5 629.5h-2.78M1263.5 624.5h-2.78M1263.5 620.5h-2.78M1263.5 616.5h-2.78M1263.5 591.5h-2.78M1263.5 578.5h-2.78M1263.5 569.5h-2.78M1263.5 562.5h-2.78M1263.5 556.5h-2.78M1263.5 551.5h-2.78M1263.5 547.5h-2.78M1263.5 543.5h-2.78M1263.5 518.5h-2.78M1263.5 505.5h-2.78M1263.5 496.5h-2.78M1263.5 489.5h-2.78" stroke="#000" stroke-width="1" fill="none"/>
<text x="1253.2" y="546.7" text-anchor="end">10<tspan dy="-5.3" font-size="9.72">0</tspan></text>
<text x="1253.2" y="619.3" text-anchor="end">10<tspan dy="-5.3" font-size="9.72">−1</tspan></text>
<text x="1253.2" y="691.9" text-anchor="end">10<tspan dy="-5.3" font-size="9.72">−2</tspan></text>
<text x="1253.2" y="764.5" text-anchor="end">10<tspan dy="-5.3" font-size="9.72">−3</tspan></text>
<text x="1253.2" y="837.1" text-anchor="end">10<tspan dy="-5.3" font-size="9.72">−4</tspan></text>
<text x="1253.2" y="909.7" text-anchor="end">10<tspan dy="-5.3" font-size="9.72">−5</tspan></text>
<text x="1205.4" y="696.5" text-anchor="middle" transform="rotate(-90 1205.4 696.5)" dominant-baseline="central">Number density of pixels in cutout</text>
<rect x="1270.9" y="491.4" width="205.1" height="47" rx="2.8" fill="#fff" fill-opacity="0.8" stroke="#ccc" stroke-width="1.39"/>
<rect x="1275.2" y="499.2" width="27.8" height="9.7" fill="#0000ff" fill-opacity="0.5"/>
<path d="M1275.2 525.0h27.8" stroke="#ff0000" stroke-width="2.08"/>
<text x="1315.4" y="509.8" text-anchor="start">Transient cutout pixels</text>
<text x="1315.4" y="530.2" text-anchor="start">Candidate peak</text>
<g clip-path="url(#c2)"><g filter="url(#px2)"><rect x="1725.5" y="-31.5" width="420" height="420" fill="#5c5c5c" filter="url(#n5)" transform="rotate(23 1935.5 178.5)"/><ellipse cx="2015" cy="255" rx="60" ry="55" fill="#fff" opacity="0.09" filter="url(#b20)"/><g filter="url(#b2)"><ellipse cx="2021.7" cy="286.5" rx="7.5" ry="10.5" fill="#fff"/><ellipse cx="2010" cy="290.5" rx="6" ry="9" fill="#d7d7d7"/><ellipse cx="2033.5" cy="284.5" rx="7" ry="6.5" fill="#c8c8c8"/><ellipse cx="1999" cy="222.3" rx="5" ry="5" fill="#5a5a5a"/><ellipse cx="1999.8" cy="242" rx="5" ry="4.5" fill="#505050"/><ellipse cx="2012" cy="268" rx="6" ry="5" fill="#3c3c3c"/></g></g></g>
<rect x="1795.5" y="316.9" width="280" height="1.6" fill="#fff"/>
<rect x="1795.5" y="38.5" width="280" height="280" fill="none" stroke="#000" stroke-width="1"/>
<path d="M1796.5 38.5v-4.86M1862.5 38.5v-4.86M1929.5 38.5v-4.86M1996.5 38.5v-4.86M2063.5 38.5v-4.86" stroke="#000" stroke-width="1" fill="none"/>
<path d="M1855.5 318.5v4.86M1922.5 318.5v4.86M1990.5 318.5v4.86M2057.5 318.5v4.86" stroke="#000" stroke-width="1" fill="none"/>
<path d="M1795.5 80.5h-4.86M1795.5 149.5h-4.86M1795.5 219.5h-4.86M1795.5 288.5h-4.86" stroke="#000" stroke-width="1" fill="none"/>
<path d="M2075.5 90.5h4.86M2075.5 159.5h4.86M2075.5 229.5h4.86M2075.5 298.5h4.86" stroke="#000" stroke-width="1" fill="none"/>
<text x="1785.64" y="85.35" text-anchor="end">15°45'</text>
<text x="1785.64" y="154.75" text-anchor="end">30'</text>
<text x="1785.64" y="224.05" text-anchor="end">15'</text>
<text x="1785.64" y="293.75" text-anchor="end">00'</text>
<text x="1724" y="179.4" text-anchor="middle" transform="rotate(-90 1724 179.4)" dominant-baseline="central">Dec</text>
<path d="M1930.4 175.31L1937.69 175.31L1939.56 177.5L1937.29 179.9L1937.49 183.82L1935.22 186.08L1933.08 184.02L1931.01 184.02L1928.53 181.76L1928.53 177.57Z" stroke="#0000ff" stroke-width="1.0" fill="none" opacity="0.7"/>
<path d="M1852.78 181.08l8.34 8.34M1852.78 189.42l8.34 -8.34" stroke="#ff0000" stroke-width="1.39" fill="none"/>
<path d="M1893.56 251.83l8.34 8.34M1893.56 260.17l8.34 -8.34" stroke="#008000" stroke-width="1.39" fill="none"/>
<rect x="2096.5" y="38.5" width="14" height="278.5" fill="url(#cb)"/>
<rect x="2096.5" y="38.5" width="14" height="280" fill="none" stroke="#000" stroke-width="1"/>
<path d="M2110.5 54.5h4.86M2110.5 90.5h4.86M2110.5 127.5h4.86M2110.5 163.5h4.86M2110.5 200.5h4.86M2110.5 236.5h4.86M2110.5 273.5h4.86M2110.5 309.5h4.86" stroke="#000" stroke-width="1" fill="none"/>
<text x="2120.22" y="59.6" text-anchor="start">0.40</text>
<text x="2120.22" y="95.6" text-anchor="start">0.35</text>
<text x="2120.22" y="132.6" text-anchor="start">0.30</text>
<text x="2120.22" y="168.6" text-anchor="start">0.25</text>
<text x="2120.22" y="205.6" text-anchor="start">0.20</text>
<text x="2120.22" y="241.6" text-anchor="start">0.15</text>
<text x="2120.22" y="278.6" text-anchor="start">0.10</text>
<text x="2120.22" y="314.6" text-anchor="start">0.05</text>
<text x="2161.7" y="179.3" text-anchor="middle" font-weight="bold" transform="rotate(-90 2161.7 179.3)" dominant-baseline="central">rms = 0.131 (1.0)</text>
<g clip-path="url(#c3)"><g filter="url(#px3)"><rect x="1725.5" y="262.5" width="420" height="420" fill="#5c5c5c" filter="url(#n6)" transform="rotate(-18 1935.5 472.5)"/><g filter="url(#b2)"><ellipse cx="1930" cy="380" rx="6" ry="6" fill="#000000"/><ellipse cx="2001.5" cy="548" rx="7" ry="6.5" fill="#000000"/><ellipse cx="1993" cy="535" rx="3" ry="8" fill="#d7d7d7" transform="rotate(-10 1993 535)"/><ellipse cx="1985" cy="523" rx="9" ry="3" fill="#c8c8c8" transform="rotate(-20 1985 523)"/><ellipse cx="1905" cy="467" rx="3" ry="4" fill="#ebebeb"/><ellipse cx="1823" cy="368" rx="4" ry="4" fill="#323232"/><ellipse cx="1925" cy="558" rx="4" ry="3.5" fill="#282828"/></g></g></g>
<rect x="1795.5" y="610.9" width="280" height="1.6" fill="#fff"/>
<rect x="1795.5" y="332.5" width="280" height="280" fill="none" stroke="#000" stroke-width="1"/>
<path d="M1796.5 332.5v-4.86M1862.5 332.5v-4.86M1929.5 332.5v-4.86M1996.5 332.5v-4.86M2063.5 332.5v-4.86" stroke="#000" stroke-width="1" fill="none"/>
<path d="M1855.5 612.5v4.86M1922.5 612.5v4.86M1990.5 612.5v4.86M2057.5 612.5v4.86" stroke="#000" stroke-width="1" fill="none"/>
<path d="M1795.5 374.5h-4.86M1795.5 443.5h-4.86M1795.5 513.5h-4.86M1795.5 582.5h-4.86" stroke="#000" stroke-width="1" fill="none"/>
<path d="M2075.5 384.5h4.86M2075.5 453.5h4.86M2075.5 523.5h4.86M2075.5 592.5h4.86" stroke="#000" stroke-width="1" fill="none"/>
<text x="1785.64" y="379.35" text-anchor="end">15°45'</text>
<text x="1785.64" y="448.75" text-anchor="end">30'</text>
<text x="1785.64" y="518.05" text-anchor="end">15'</text>
<text x="1785.64" y="587.75" text-anchor="end">00'</text>
<text x="1724" y="473.4" text-anchor="middle" transform="rotate(-90 1724 473.4)" dominant-baseline="central">Dec</text>
<path d="M1930.4 469.31L1937.69 469.31L1939.56 471.5L1937.29 473.9L1937.49 477.82L1935.22 480.08L1933.08 478.02L1931.01 478.02L1928.53 475.76L1928.53 471.57Z" stroke="#0000ff" stroke-width="1.0" fill="none" opacity="0.7"/>
<path d="M1852.78 475.08l8.34 8.34M1852.78 483.42l8.34 -8.34" stroke="#ff0000" stroke-width="1.39" fill="none"/>
<path d="M1893.56 545.83l8.34 8.34M1893.56 554.17l8.34 -8.34" stroke="#008000" stroke-width="1.39" fill="none"/>
<rect x="2096.5" y="332.5" width="14" height="278.5" fill="url(#cb)"/>
<rect x="2096.5" y="332.5" width="14" height="280" fill="none" stroke="#000" stroke-width="1"/>
<path d="M2110.5 334.5h4.86M2110.5 394.5h4.86M2110.5 453.5h4.86M2110.5 512.5h4.86M2110.5 572.5h4.86" stroke="#000" stroke-width="1" fill="none"/>
<text x="2120.22" y="339.6" text-anchor="start">5</text>
<text x="2120.22" y="399.6" text-anchor="start">4</text>
<text x="2120.22" y="458.6" text-anchor="start">3</text>
<text x="2120.22" y="517.6" text-anchor="start">2</text>
<text x="2120.22" y="577.6" text-anchor="start">1</text>
<text x="2140" y="472.5" text-anchor="middle" transform="rotate(-90 2140 472.5)" dominant-baseline="central">spike = 3.0 (0.401)</text>
<g clip-path="url(#c4)"><g filter="url(#px4)"><rect x="1725.5" y="556.5" width="420" height="420" fill="#5c5c5c" filter="url(#n7)" transform="rotate(38 1935.5 766.5)"/><ellipse cx="2015" cy="845" rx="60" ry="55" fill="#fff" opacity="0.09" filter="url(#b20)"/><g filter="url(#b2)"><ellipse cx="2021.7" cy="875.7" rx="7" ry="9" fill="#fff"/><ellipse cx="2011" cy="879" rx="6" ry="8" fill="#ebebeb"/><ellipse cx="2037.7" cy="869.2" rx="7" ry="6" fill="#c8c8c8" transform="rotate(-20 2037.7 869.2)"/><ellipse cx="2000.5" cy="810" rx="6" ry="6" fill="#555555"/><ellipse cx="1999" cy="829" rx="6" ry="5" fill="#4b4b4b"/><ellipse cx="2010" cy="849" rx="6" ry="6" fill="#505050"/><ellipse cx="2028" cy="853" rx="5" ry="4" fill="#464646"/></g></g></g>
<rect x="1795.5" y="904.9" width="280" height="1.6" fill="#fff"/>
<rect x="1795.5" y="626.5" width="280" height="280" fill="none" stroke="#000" stroke-width="1"/>
<path d="M1796.5 626.5v-4.86M1862.5 626.5v-4.86M1929.5 626.5v-4.86M1996.5 626.5v-4.86M2063.5 626.5v-4.86" stroke="#000" stroke-width="1" fill="none"/>
<path d="M1855.5 906.5v4.86M1922.5 906.5v4.86M1990.5 906.5v4.86M2057.5 906.5v4.86" stroke="#000" stroke-width="1" fill="none"/>
<path d="M1795.5 668.5h-4.86M1795.5 737.5h-4.86M1795.5 806.5h-4.86M1795.5 876.5h-4.86" stroke="#000" stroke-width="1" fill="none"/>
<path d="M2075.5 678.5h4.86M2075.5 747.5h4.86M2075.5 817.5h4.86M2075.5 885.5h4.86" stroke="#000" stroke-width="1" fill="none"/>
<text x="1785.64" y="673.25" text-anchor="end">15°45'</text>
<text x="1785.64" y="742.65" text-anchor="end">30'</text>
<text x="1785.64" y="811.95" text-anchor="end">15'</text>
<text x="1785.64" y="881.65" text-anchor="end">00'</text>
<text x="1724" y="767.4" text-anchor="middle" transform="rotate(-90 1724 767.4)" dominant-baseline="central">Dec</text>
<text x="1855.3" y="926.4" text-anchor="middle">20<tspan dy="-5.3" font-size="9.72">h</tspan><tspan dy="5.3">00</tspan><tspan dy="-5.3" font-size="9.72">m</tspan></text>
<text x="1922.3" y="926.4" text-anchor="middle">19<tspan dy="-5.3" font-size="9.72">h</tspan><tspan dy="5.3">59</tspan><tspan dy="-5.3" font-size="9.72">m</tspan></text>
<text x="1990.3" y="926.4" text-anchor="middle">58<tspan dy="-5.3" font-size="9.72">m</tspan></text>
<text x="2057.7" y="926.4" text-anchor="middle">57<tspan dy="-5.3" font-size="9.72">m</tspan></text>
<text x="1934.4" y="947.7" text-anchor="middle">RA</text>
<path d="M1930.4 763.21L1937.69 763.21L1939.56 765.4L1937.29 767.8L1937.49 771.72L1935.22 773.98L1933.08 771.92L1931.01 771.92L1928.53 769.66L1928.53 765.47Z" stroke="#0000ff" stroke-width="1.0" fill="none" opacity="0.7"/>
<path d="M1852.78 768.98l8.34 8.34M1852.78 777.32l8.34 -8.34" stroke="#ff0000" stroke-width="1.39" fill="none"/>
<path d="M1893.56 839.73l8.34 8.34M1893.56 848.07l8.34 -8.34" stroke="#008000" stroke-width="1.39" fill="none"/>
<rect x="2096.5" y="626.5" width="14" height="278.5" fill="url(#cb)"/>
<rect x="2096.5" y="626.5" width="14" height="280" fill="none" stroke="#000" stroke-width="1"/>
<path d="M2110.5 644.5h4.86M2110.5 683.5h4.86M2110.5 723.5h4.86M2110.5 762.5h4.86M2110.5 802.5h4.86M2110.5 842.5h4.86M2110.5 881.5h4.86" stroke="#000" stroke-width="1" fill="none"/>
<text x="2120.22" y="649.6" text-anchor="start">1.4</text>
<text x="2120.22" y="688.6" text-anchor="start">1.2</text>
<text x="2120.22" y="728.6" text-anchor="start">1.0</text>
<text x="2120.22" y="767.6" text-anchor="start">0.8</text>
<text x="2120.22" y="807.6" text-anchor="start">0.6</text>
<text x="2120.22" y="847.6" text-anchor="start">0.4</text>
<text x="2120.22" y="886.6" text-anchor="start">0.2</text>
<text x="2153" y="766.5" text-anchor="middle" transform="rotate(-90 2153 766.5)" dominant-baseline="central">tcg = 0.405 (0.995)</text>
</svg></body></html>
